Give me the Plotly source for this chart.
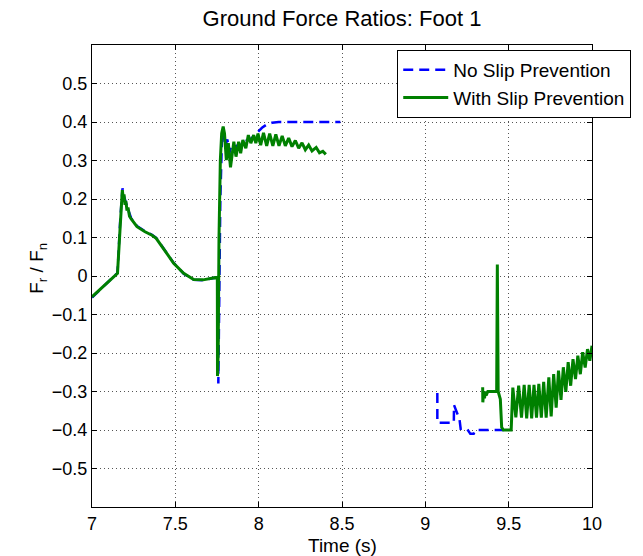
import plotly.graph_objects as go

# ---- data: ground force ratio Fr/Fn for foot 1 ----
# No slip prevention (two contact phases, gap between them)
t_noslip_a = [7.000, 7.153, 7.170, 7.183, 7.190, 7.200, 7.215, 7.235, 7.270, 7.318,
              7.360, 7.385, 7.434, 7.490, 7.550, 7.610, 7.667, 7.720, 7.755, 7.758,
              7.763, 7.770, 7.780, 7.790, 7.800, 7.812, 7.825, 7.840, 7.860, 7.900,
              7.950, 7.990, 8.020, 8.050, 8.080, 8.120, 8.490]
r_noslip_a = [-0.056, 0.008, 0.150, 0.228, 0.210, 0.195, 0.175, 0.150, 0.130, 0.116,
              0.107, 0.099, 0.069, 0.034, 0.006, -0.010, -0.011, -0.006, -0.003, -0.279,
              -0.100, 0.200, 0.360, 0.375, 0.335, 0.355, 0.320, 0.345, 0.335, 0.348,
              0.355, 0.372, 0.385, 0.394, 0.398, 0.400, 0.400]
t_noslip_b = [9.072, 9.072, 9.171, 9.172, 9.205, 9.212, 9.250, 9.270, 9.290, 9.300, 9.470]
r_noslip_b = [-0.304, -0.381, -0.381, -0.335, -0.372, -0.397, -0.397, -0.410, -0.410, -0.400, -0.400]

# With slip prevention
t_slip_a = [7.000, 7.153, 7.168, 7.175, 7.182, 7.188, 7.192, 7.198, 7.203, 7.210,
            7.216, 7.225, 7.235, 7.270, 7.318, 7.360, 7.385, 7.434, 7.490, 7.550,
            7.610, 7.667, 7.720, 7.752, 7.753, 7.757, 7.762, 7.770, 7.778, 7.787,
            7.795, 7.806, 7.818, 7.831, 7.851, 7.864, 7.880, 7.892, 7.905, 7.923,
            7.938, 7.953, 7.970, 7.983, 7.996, 8.012, 8.029, 8.048, 8.066, 8.085,
            8.103, 8.122, 8.141, 8.160, 8.180, 8.200, 8.220, 8.240, 8.260, 8.280,
            8.300, 8.320, 8.345, 8.365, 8.385, 8.403]
r_slip_a = [-0.054, 0.007, 0.120, 0.190, 0.223, 0.200, 0.212, 0.185, 0.195, 0.170,
            0.178, 0.155, 0.148, 0.128, 0.115, 0.106, 0.098, 0.068, 0.033, 0.007,
            -0.009, -0.010, -0.006, -0.003, -0.260, -0.200, 0.100, 0.300, 0.370, 0.388,
            0.370, 0.301, 0.345, 0.282, 0.349, 0.310, 0.349, 0.319, 0.353, 0.332,
            0.366, 0.345, 0.366, 0.345, 0.370, 0.340, 0.372, 0.338, 0.370, 0.338,
            0.368, 0.338, 0.364, 0.338, 0.358, 0.336, 0.352, 0.332, 0.346, 0.328,
            0.340, 0.325, 0.334, 0.320, 0.324, 0.316]
t_slip_b = [9.344, 9.345, 9.350, 9.355, 9.360, 9.365, 9.375, 9.428, 9.432, 9.437,
            9.450, 9.458, 9.468, 9.515, 9.525, 9.543, 9.560, 9.577, 9.593, 9.608,
            9.623, 9.638, 9.652, 9.667, 9.681, 9.696, 9.710, 9.725, 9.741, 9.755,
            9.770, 9.785, 9.799, 9.814, 9.828, 9.843, 9.857, 9.872, 9.886, 9.901,
            9.915, 9.930, 9.944, 9.959, 9.973, 9.987, 10.000]
r_slip_b = [-0.289, -0.328, -0.300, -0.318, -0.300, -0.310, -0.300, -0.300, 0.030, -0.300,
            -0.320, -0.393, -0.400, -0.400, -0.290, -0.367, -0.285, -0.368, -0.283, -0.370,
            -0.283, -0.370, -0.283, -0.368, -0.280, -0.368, -0.275, -0.368, -0.263, -0.365,
            -0.255, -0.342, -0.246, -0.322, -0.237, -0.301, -0.224, -0.285, -0.216, -0.268,
            -0.207, -0.255, -0.198, -0.238, -0.190, -0.220, -0.181]

x_ticks = [7, 7.5, 8, 8.5, 9, 9.5, 10]
x_tick_text = ["7", "7.5", "8", "8.5", "9", "9.5", "10"]
y_ticks = [-0.5, -0.4, -0.3, -0.2, -0.1, 0, 0.1, 0.2, 0.3, 0.4, 0.5]
y_tick_text = ["\u22120.5", "\u22120.4", "\u22120.3", "\u22120.2", "\u22120.1", "0",
               "0.1", "0.2", "0.3", "0.4", "0.5"]

FONT = "Liberation Sans, Arial, Helvetica, sans-serif"

# plot-area geometry in pixels
L, R, T, B = 92, 35, 45, 49
W, H = 643, 556
PW, PH = W - L - R, H - T - B

fig = go.Figure()
fig.add_trace(go.Scatter(
    x=t_noslip_a + [None] + t_noslip_b,
    y=r_noslip_a + [None] + r_noslip_b,
    mode="lines", name="No Slip Prevention",
    line=dict(color="#0000ff", width=2.5, dash="10px,6px"),
    connectgaps=False,
))
fig.add_trace(go.Scatter(
    x=t_slip_a + [None] + t_slip_b,
    y=r_slip_a + [None] + r_slip_b,
    mode="lines", name="With Slip Prevention",
    line=dict(color="#008000", width=3),
    connectgaps=False,
))

axis_common = dict(
    showline=True, linecolor="black", linewidth=1, mirror="ticks",
    ticks="inside", ticklen=5, tickcolor="black",
    showgrid=True, gridcolor="#555555", gridwidth=1, griddash="1px,3px",
    zeroline=False, tickfont=dict(family=FONT, size=18, color="black"),
)

fig.update_layout(
    width=W, height=H,
    margin=dict(l=L, r=R, t=T, b=B),
    paper_bgcolor="white", plot_bgcolor="white",
    showlegend=True,
    title=dict(text="Ground Force Ratios: Foot 1", x=0.5, xref="paper",
               y=1 - 18 / H, yref="container", yanchor="middle", xanchor="center",
               font=dict(family=FONT, size=22, color="black")),
    xaxis=dict(range=[7, 10], tickvals=x_ticks, ticktext=x_tick_text, **axis_common),
    yaxis=dict(range=[-0.6, 0.6], tickvals=y_ticks, ticktext=y_tick_text, **axis_common),
    legend=dict(x=(407 - L) / PW, y=(H - B - 50) / PH, xanchor="left", yanchor="top",
                bgcolor="white", bordercolor="black", borderwidth=1,
                font=dict(family=FONT, size=19, color="black"),
                itemwidth=45, tracegroupgap=0),
    annotations=[
        dict(text="F<sub>r</sub> / F<sub>n</sub>", xref="paper", yref="paper",
             x=(36 - L) / PW, y=(H - B - 268) / PH, xanchor="center", yanchor="middle",
             textangle=-90, showarrow=False,
             font=dict(family=FONT, size=19, color="black")),
        dict(text="Time (s)", xref="paper", yref="paper",
             x=0.5, y=(H - B - 545) / PH, xanchor="center", yanchor="middle",
             showarrow=False, font=dict(family=FONT, size=19, color="black")),
    ],
)

fig.write_html("out.html")
